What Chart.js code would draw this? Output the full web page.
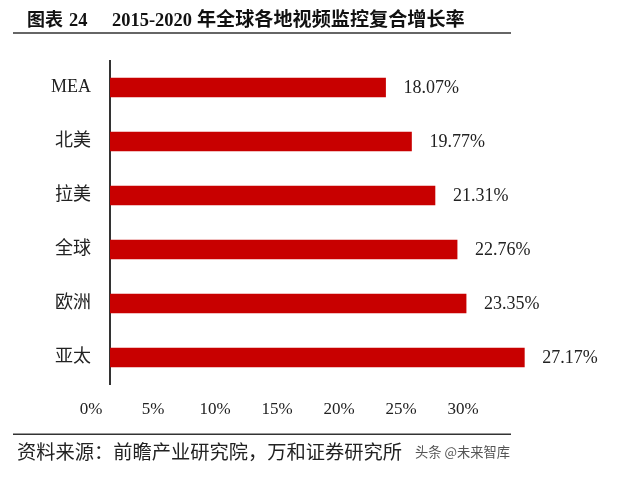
<!DOCTYPE html>
<html>
<head>
<meta charset="utf-8">
<script src="https://cdn.jsdelivr.net/npm/chart.js@4.4.1/dist/chart.umd.min.js"></script>
<style>
html,body{margin:0;padding:0;background:#fff;}
canvas{display:block;}
</style>
</head>
<body>
<canvas id="c" width="640" height="478"></canvas>
<script>
const categories = ["MEA", "北美", "拉美", "全球", "欧洲", "亚太"];
const values = [18.07, 19.77, 21.31, 22.76, 23.35, 27.17];
const valueLabels = ["18.07%", "19.77%", "21.31%", "22.76%", "23.35%", "27.17%"];
const tickValues = [0, 5, 10, 15, 20, 25, 30];
const titleParts = ["图表", "24", "2015-2020", "年全球各地视频监控复合增长率"];
const sourceText = "资料来源：前瞻产业研究院，万和证券研究所";
const watermark = "头条 @未来智库";

const SERIF = '"Liberation Serif", "Noto Sans CJK SC", serif';
const CJK = '"Noto Sans CJK SC", "Liberation Serif", sans-serif';

function fitText(ctx, text, x, y, weight, family, targetW) {
  ctx.font = weight + ' 20px ' + family;
  const w = ctx.measureText(text).width;
  const size = 20 * targetW / w;
  ctx.font = weight + ' ' + size.toFixed(2) + 'px ' + family;
  ctx.fillText(text, x, y);
  return size;
}

const decor = {
  id: 'decor',
  afterDraw(chart) {
    const ctx = chart.ctx;
    ctx.save();
    // title
    ctx.fillStyle = '#111';
    ctx.textBaseline = 'alphabetic';
    ctx.textAlign = 'left';
    fitText(ctx, titleParts[0], 27, 26, 'bold', CJK, 36);
    const ds = fitText(ctx, titleParts[2], 112, 26, 'bold', SERIF, 80);
    ctx.font = 'bold ' + ds.toFixed(2) + 'px ' + SERIF;
    ctx.fillText(titleParts[1], 69, 26);
    fitText(ctx, titleParts[3], 197, 26, 'bold', CJK, 268);
    // lines
    ctx.strokeStyle = '#333';
    ctx.lineWidth = 1.5;
    ctx.beginPath(); ctx.moveTo(13, 33); ctx.lineTo(511, 33); ctx.stroke();
    ctx.beginPath(); ctx.moveTo(13, 434.3); ctx.lineTo(511, 434.3); ctx.stroke();
    // footer
    ctx.fillStyle = '#222';
    ctx.textBaseline = 'middle';
    fitText(ctx, sourceText, 17, 452, 'normal', CJK, 385);
    ctx.fillStyle = '#555';
    fitText(ctx, watermark, 415, 452, 'normal', CJK, 95);
    // data labels
    const meta = chart.getDatasetMeta(0);
    ctx.fillStyle = '#222';
    ctx.font = '18px ' + SERIF;
    ctx.textBaseline = 'middle';
    meta.data.forEach((bar, i) => {
      ctx.fillText(valueLabels[i], bar.x + 18, bar.y + 1);
    });
    ctx.restore();
  }
};

new Chart(document.getElementById('c'), {
  type: 'bar',
  data: {
    labels: categories,
    datasets: [{
      data: values,
      backgroundColor: '#C80000',
      borderWidth: 0,
      barThickness: 19,
      xAxisID: 'x',
      yAxisID: 'y'
    }]
  },
  options: {
    indexAxis: 'y',
    responsive: false,
    animation: false,
    devicePixelRatio: 1,
    layout: { padding: { top: 60.5, bottom: 53.5, left: 0, right: 42 } },
    plugins: { legend: { display: false }, tooltip: { enabled: false }, title: { display: false } },
    scales: {
      x: { display: false, min: 0, max: 32 },
      x2: {
        type: 'linear',
        position: 'bottom',
        min: 1.53,
        max: 40.88,
        grid: { display: false, drawTicks: false },
        border: { display: false },
        afterBuildTicks: (s) => { s.ticks = tickValues.map(v => ({ value: v })); },
        afterFit: (s) => { s.height = 40; },
        ticks: {
          padding: 15,
          color: '#222',
          font: { family: SERIF, size: 17 },
          callback: (v) => v + '%'
        }
      },
      y: {
        grid: { display: false, drawTicks: false },
        border: { display: true, color: '#333', width: 2 },
        afterFit: (s) => { s.width = 110; },
        ticks: {
          padding: 19,
          color: '#222',
          font: { family: SERIF, size: 18 }
        }
      }
    }
  },
  plugins: [decor]
});
</script>
</body>
</html>
